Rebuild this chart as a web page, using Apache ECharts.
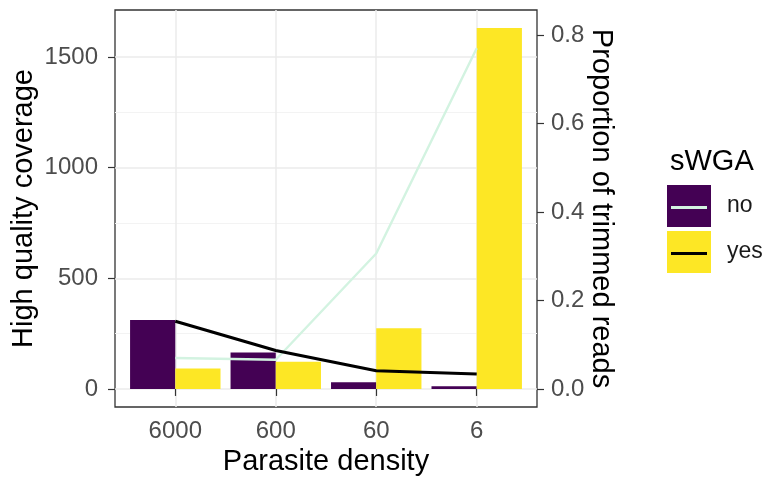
<!DOCTYPE html>
<html>
<head>
<meta charset="utf-8">
<script src="https://cdn.jsdelivr.net/npm/echarts@6/dist/echarts.min.js"></script>
<style>
html,body{margin:0;padding:0;background:#fff;}
#chart{width:766px;height:483px;}
</style>
</head>
<body>
<div id="chart"></div>
<script>
// ---- data ----
const categories = ['6000', '600', '60', '6'];
const coverageNo = [312, 165, 30, 12];
const coverageYes = [93, 123, 274, 1631];
const trimmedNo = [0.070, 0.066, 0.306, 0.770];
const trimmedYes = [0.153, 0.087, 0.041, 0.034];
const leftTicks = [0, 500, 1000, 1500];
const leftMinorTicks = [250, 750, 1250];
const rightTicks = [0, 0.2, 0.4, 0.6, 0.8];
const secScale = 2000; // coverage = proportion * secScale

// ---- derived ----
const xPos = categories.map((c, i) => i + 1);
const allCov = coverageNo.concat(coverageYes);
const covMax = Math.max.apply(null, allCov);
const pad = covMax * 0.05;
const yMin = -pad, yMax = covMax + pad;

const FONT = "'Liberation Sans', Arial, sans-serif";
const chart = echarts.init(document.getElementById('chart'), null, {renderer: 'canvas'});

const option = {
  backgroundColor: '#ffffff',
  animation: false,
  textStyle: {fontFamily: FONT},
  title: {
    text: 'sWGA', left: 665, top: 142,
    textStyle: {fontFamily: FONT, fontSize: 29, fontWeight: 'normal', color: '#000'}
  },
  grid: {
    left: 115, right: 229, top: 10, bottom: 76,
    outerBoundsMode: 'none', containLabel: false,
    show: true, borderColor: '#333333', borderWidth: 1.3, backgroundColor: 'transparent'
  },
  legend: [
    {
      orient: 'vertical', left: 667, top: 185, padding: 0,
      itemWidth: 44, itemHeight: 42, itemGap: 4, selectedMode: false,
      data: [
        {name: 'no', icon: 'rect', itemStyle: {color: '#440154'}},
        {name: 'yes', icon: 'rect', itemStyle: {color: '#FDE725'}}
      ],
      textStyle: {fontFamily: FONT, fontSize: 23, color: '#1a1a1a', padding: [0, 0, 0, 11]}
    },
    {
      orient: 'vertical', left: 671, top: 206, padding: 0,
      itemWidth: 36, itemHeight: 3, itemGap: 43, selectedMode: false,
      data: [
        {name: 'no', icon: 'rect', itemStyle: {color: '#d3f3e1'}},
        {name: 'yes', icon: 'rect', itemStyle: {color: '#000000'}}
      ],
      formatter: function () { return ''; },
      textStyle: {fontSize: 2, lineHeight: 2}
    }
  ],
  xAxis: {
    type: 'value', min: 0.4, max: 4.6,
    name: 'Parasite density', nameLocation: 'middle', nameGap: 40, nameMoveOverlap: false,
    nameTextStyle: {fontFamily: FONT, fontSize: 29, color: '#000'},
    axisLine: {show: false},
    axisTick: {show: true, customValues: xPos, length: 7, lineStyle: {color: '#333333', width: 1.2}},
    axisLabel: {customValues: xPos, formatter: function (v) { return categories[Math.round(v) - 1]; },
      fontFamily: FONT, fontSize: 24, color: '#4d4d4d', margin: 12},
    splitLine: {show: true, lineStyle: {color: '#ebebeb', width: 1.5}}
  },
  yAxis: [
    {
      type: 'value', position: 'left', min: yMin, max: yMax,
      name: 'High quality coverage', nameLocation: 'middle', nameGap: 77, nameMoveOverlap: false,
      nameTextStyle: {fontFamily: FONT, fontSize: 29, color: '#000'},
      axisLine: {show: false},
      axisTick: {show: true, customValues: leftTicks, length: 7, lineStyle: {color: '#333333', width: 1.2}},
      axisLabel: {customValues: leftTicks, formatter: function (v) { return String(v); },
        fontFamily: FONT, fontSize: 24, color: '#4d4d4d', margin: 17},
      splitLine: {show: true, lineStyle: {color: '#ebebeb', width: 1.5}}
    },
    {
      type: 'value', position: 'right', min: yMin / secScale, max: yMax / secScale,
      name: 'Proportion of trimmed reads', nameLocation: 'middle', nameGap: 49, nameRotate: -90,
      nameMoveOverlap: false,
      nameTextStyle: {fontFamily: FONT, fontSize: 29, color: '#000'},
      axisLine: {show: false},
      axisTick: {show: true, customValues: rightTicks, length: 7, lineStyle: {color: '#333333', width: 1.2}},
      axisLabel: {customValues: rightTicks, formatter: function (v) { return v.toFixed(1); },
        fontFamily: FONT, fontSize: 24, color: '#4d4d4d', margin: 14},
      splitLine: {show: false}
    },
    {
      type: 'value', position: 'left', min: yMin, max: yMax, show: true,
      axisLine: {show: false}, axisLabel: {show: false},
      axisTick: {show: false, customValues: leftMinorTicks},
      splitLine: {show: true, lineStyle: {color: '#f3f3f3', width: 1}}
    }
  ],
  series: [
    {
      name: 'no', type: 'bar', xAxisIndex: 0, yAxisIndex: 0,
      barWidth: '45%', barGap: '0%',
      itemStyle: {color: '#440154'},
      data: coverageNo.map((v, i) => [xPos[i], v])
    },
    {
      name: 'yes', type: 'bar', xAxisIndex: 0, yAxisIndex: 0,
      barWidth: '45%', barGap: '0%',
      itemStyle: {color: '#FDE725'},
      data: coverageYes.map((v, i) => [xPos[i], v])
    },
    {
      name: 'no', type: 'line', xAxisIndex: 0, yAxisIndex: 1,
      symbol: 'none', z: 5,
      lineStyle: {color: '#d3f3e1', width: 2.4},
      itemStyle: {color: '#d3f3e1'},
      data: trimmedNo.map((v, i) => [xPos[i], v])
    },
    {
      name: 'yes', type: 'line', xAxisIndex: 0, yAxisIndex: 1,
      symbol: 'none', z: 5,
      lineStyle: {color: '#000000', width: 3},
      itemStyle: {color: '#000000'},
      data: trimmedYes.map((v, i) => [xPos[i], v])
    }
  ]
};
chart.setOption(option);
</script>
</body>
</html>
